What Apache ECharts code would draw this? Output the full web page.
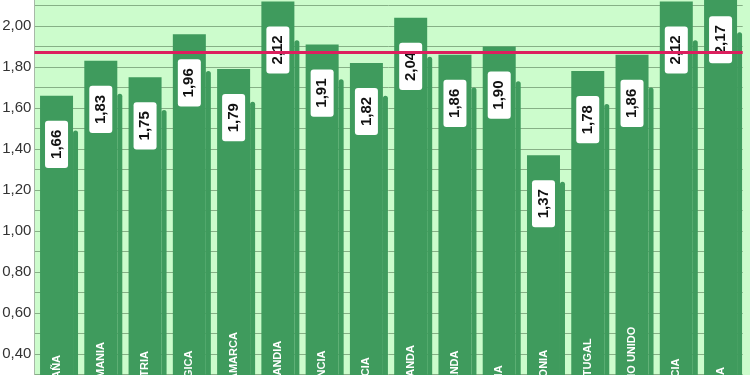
<!DOCTYPE html>
<html>
<head>
<meta charset="utf-8">
<script src="https://cdn.jsdelivr.net/npm/echarts@6/dist/echarts.min.js"></script>
<style>
html,body{margin:0;padding:0;background:#fff;}
#c{width:750px;height:375px;}
</style>
</head>
<body>
<div id="c"></div>
<script>
const categories = ['ESPAÑA','ALEMANIA','AUSTRIA','BÉLGICA','DINAMARCA','FINLANDIA','FRANCIA','GRECIA','HOLANDA','IRLANDA','ITALIA','POLONIA','PORTUGAL','REINO UNIDO','SUECIA','SUIZA'];
const values = [1.66,1.83,1.75,1.96,1.79,2.12,1.91,1.82,2.04,1.86,1.90,1.37,1.78,1.86,2.12,2.17];
const echoValues = [1.49,1.67,1.59,1.78,1.63,1.93,1.74,1.66,1.85,1.70,1.73,1.24,1.62,1.70,1.93,1.97];
const referenceLine = 1.87;
const yTicks = {min: 0.2, max: 2.2, interval: 0.2};

const fmt = v => Number(v).toFixed(2).replace('.', ',');
const GREEN = '#3f9b5d';

const chart = echarts.init(document.getElementById('c'), null, {renderer: 'canvas'});
chart.setOption({
  animation: false,
  backgroundColor: '#ffffff',
  graphic: [{
    type: 'rect', left: 742, top: 0, shape: {width: 8, height: 375},
    style: {fill: '#ccfccc'}, z: -10
  }],
  grid: {
    left: 34.4, right: 7.3, top: -15, bottom: -20,
    outerBoundsMode: 'none', containLabel: false,
    show: true, backgroundColor: '#ccfccc', borderWidth: 0
  },
  xAxis: {
    type: 'category',
    data: categories,
    axisLine: {show: false},
    axisTick: {show: false},
    axisLabel: {
      inside: true, rotate: 90, margin: -5,
      color: '#ffffff', fontFamily: 'Liberation Sans, Arial, sans-serif',
      fontWeight: 'bold', fontSize: 11, interval: 0
    },
    z: 10
  },
  yAxis: {
    type: 'value',
    min: yTicks.min, max: yTicks.max, interval: yTicks.interval,
    axisLine: {show: true, lineStyle: {color: '#a8b8a8', width: 1}},
    axisTick: {show: false},
    axisLabel: {
      formatter: fmt, color: '#333333', fontSize: 15, margin: 3,
      fontFamily: 'Liberation Sans, Arial, sans-serif'
    },
    splitLine: {show: true, lineStyle: {color: '#86b086', width: 1}},
    minorTick: {show: false, splitNumber: 2},
    minorSplitLine: {show: true, lineStyle: {color: '#86b086', width: 1}}
  },
  series: [
    {
      name: 'spacer', type: 'bar', barWidth: 5, barGap: '0%',
      data: categories.map(() => '-'), silent: true
    },
    {
      name: 'valor', type: 'bar', barWidth: 33, barGap: '0%',
      data: values,
      itemStyle: {color: GREEN},
      label: {
        show: true, position: 'insideTop', rotate: 90, distance: 25,
        align: 'right', verticalAlign: 'middle',
        formatter: p => fmt(p.value),
        color: '#111111', fontWeight: 'bold', fontSize: 15,
        fontFamily: 'Liberation Sans, Arial, sans-serif',
        backgroundColor: '#ffffff', borderRadius: 3, padding: [4, 9, 4, 9]
      },
      z: 3
    },
    {
      name: 'eco', type: 'bar', barWidth: 5, barGap: '0%',
      data: echoValues,
      itemStyle: {color: GREEN, borderRadius: [3, 3, 0, 0]},
      silent: true, z: 2
    },
    {
      name: 'referencia', type: 'line', data: [], silent: true, z: 20,
      markLine: {
        symbol: 'none', silent: true, z: 20,
        label: {show: false},
        lineStyle: {color: '#dc1f5e', width: 3, type: 'solid'},
        data: [{yAxis: referenceLine}]
      }
    }
  ]
});
</script>
</body>
</html>
